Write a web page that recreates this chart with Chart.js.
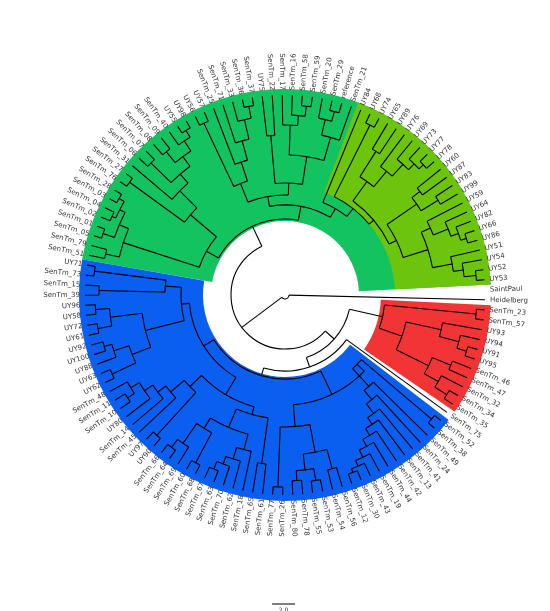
<!DOCTYPE html>
<html><head><meta charset="utf-8">
<script src="https://cdn.jsdelivr.net/npm/chart.js@4.4.1/dist/chart.umd.min.js"></script>
<style>html,body{margin:0;padding:0;background:#fff}#w{width:550px;height:611px}</style>
</head><body><div id="w"><canvas id="c"></canvas></div>
<script>
// Clade topologies (Newick; number after ')' = node radius, tips at radius 1)
const redClade = "((SenTm_23,SenTm_57)0.96,((UY93,(UY94,(UY91,UY95)0.95)0.9)0.8,((SenTm_46,SenTm_47)0.9,(SenTm_32,(SenTm_34,SenTm_35)0.95)0.88)0.8)0.62)0.5";
const blueA = "((SenTm_52,SenTm_38)0.96,(SenTm_49,(SenTm_24,(SenTm_41,(SenTm_13,(SenTm_42,(SenTm_44,(SenTm_19,(SenTm_43,(SenTm_30,SenTm_12)0.95)0.93)0.9)0.86)0.82)0.78)0.74)0.68)0.62)0.5";
const blueB = "(((SenTm_56,SenTm_54)0.9,((SenTm_53,SenTm_55)0.94,(SenTm_78,SenTm_80)0.93)0.88)0.8,(SenTm_26,SenTm_77)0.96)0.66";
const blueC = "((SenTm_61,SenTm_65)0.85,((SenTm_18,(SenTm_62,(SenTm_70,(SenTm_63,SenTm_67)0.94)0.9)0.86)0.8,((SenTm_68,SenTm_60)0.95,(SenTm_69,(SenTm_64,SenTm_66)0.95)0.9)0.78)0.72)0.62";
const blueD = "((UY90,UY97)0.95,(SenTm_45,(SenTm_14,(UY80,((SenTm_10,SenTm_11)0.94,SenTm_48)0.9)0.85)0.8)0.75)0.66";
const blueE = "(((UY62,UY63)0.95,(UY88,(UY100,UY92)0.94)0.9)0.82,((UY61,UY72)0.95,(UY58,UY96)0.95)0.88)0.72";
const blueF = "((SenTm_39,SenTm_15)0.93,(SenTm_73,UY71)0.96)0.6";
const greenA = "((SenTm_51,SenTm_79)0.92,((SenTm_05,SenTm_01)0.96,((SenTm_02,SenTm_04)0.95,(SenTm_03,SenTm_28)0.96)0.93)0.9)0.85";
const greenB = "((SenTm_76,SenTm_27)0.96,(SenTm_31,((SenTm_06,SenTm_07)0.94,((SenTm_08,SenTm_09)0.93,(SenTm_40,(UY55,UY98)0.96)0.92)0.86)0.8)0.74)0.62";
const greenC = "((UY56,UY57)0.95,(SenTm_25,(SenTm_71,(SenTm_33,(SenTm_36,SenTm_37)0.96)0.9)0.8)0.7)0.6";
const greenD = "((UY75,SenTm_22)0.8,((SenTm_17,(SenTm_16,(SenTm_58,SenTm_59)0.95)0.9)0.85,((SenTm_20,(SenTm_29,reference)0.95)0.9,SenTm_21)0.82)0.7)0.56";
const lightGreen = "(UY84,((UY68,UY74)0.95,(((UY65,UY89)0.85,(UY76,(UY69,(UY73,(UY77,UY78)0.95)0.92)0.88)0.8)0.7,(((UY60,UY87)0.85,(UY83,UY99)0.9)0.8,((UY59,(UY64,(UY82,(UY66,UY86)0.95)0.92)0.88)0.8,(UY51,(UY54,(UY52,UY53)0.96)0.9)0.85)0.75)0.62)0.58)0.55)0.5";
const blueClade = `((${blueA},${blueB})0.55,((${blueC},${blueD})0.58,(${blueE},${blueF})0.52)0.48)0.42`;
const greenClade = `((${greenA},${greenB})0.45,((${greenC},${greenD})0.5,${lightGreen})0.45)0.38`;
const treeNewick = `(SaintPaul,(Heidelberg,(((${redClade},(SenTm_75,${blueClade})0.38)0.33,${greenClade})0.27)0.17)0.02`;
// Colored clade sectors: [first leaf, last leaf, inner radius, outer radius, colour]
const sectorFirst = ["SenTm_51","UY84","SenTm_52","SenTm_23"];
const sectorLast = ["UY53","UY53","UY71","SenTm_35"];
const sectorInner = [0.37,0.55,0.41,0.48];
const sectorOuter = [1.03,1.03,1.03,1.03];
const sectorColor = ["#13c35f","#6cc50c","#0b5ff0","#f23434"];

function parse(s){let i=0;function node(){if(s[i]==='('){i++;const ch=[node()];while(s[i]===','){i++;ch.push(node());}i++;let n='';while(i<s.length&&/[0-9.]/.test(s[i]))n+=s[i++];return{ch,r:parseFloat(n)};}let n='';while(i<s.length&&!/[,()]/.test(s[i]))n+=s[i++];return{name:n,r:1};}return node();}
const tree=parse(treeNewick);
const leaves=[];(function walk(n){if(n.ch)n.ch.forEach(walk);else leaves.push(n.name);})(tree);
const step=360/leaves.length, start=-1.5;
const angOf=i=>start+i*step;
(function setA(n){if(n.ch){n.ch.forEach(setA);n.a=(n.ch[0].a+n.ch[n.ch.length-1].a)/2;}else n.a=angOf(leaves.indexOf(n.name));})(tree);
const rad=d=>d*Math.PI/180;
const pts=leaves.map((l,i)=>({x:Math.cos(rad(angOf(i))),y:-Math.sin(rad(angOf(i)))}));

const treePlugin={id:'tree',beforeDatasetsDraw(chart){
 const ctx=chart.ctx,xs=chart.scales.x,ys=chart.scales.y;
 const cx=xs.getPixelForValue(0),cy=ys.getPixelForValue(0),u=xs.getPixelForValue(1)-cx;
 const P=(r,a)=>[cx+r*u*Math.cos(rad(a)),cy+r*u*Math.sin(rad(a))];
 ctx.save();
 sectorFirst.forEach((f,k)=>{const a0=angOf(leaves.indexOf(f))-step/2,a1=angOf(leaves.indexOf(sectorLast[k]))+step/2;
  ctx.beginPath();ctx.arc(cx,cy,sectorOuter[k]*u,rad(a0),rad(a1));ctx.arc(cx,cy,sectorInner[k]*u,rad(a1),rad(a0),true);ctx.closePath();ctx.fillStyle=sectorColor[k];ctx.fill();});
 ctx.strokeStyle='#000';ctx.lineWidth=1.1;
 (function draw(n){if(!n.ch)return;
  const a0=n.ch[0].a,a1=n.ch[n.ch.length-1].a;
  ctx.beginPath();ctx.arc(cx,cy,n.r*u,rad(a0),rad(a1));ctx.stroke();
  n.ch.forEach(c=>{const p=P(n.r,c.a),q=P(c.r,c.a);ctx.beginPath();ctx.moveTo(p[0],p[1]);ctx.lineTo(q[0],q[1]);ctx.stroke();draw(c);});})(tree);
 ctx.fillStyle='#333';ctx.font='7px "DejaVu Sans"';ctx.textBaseline='middle';
 leaves.forEach((l,i)=>{let a=angOf(i);const p=P(1.025,a);ctx.save();ctx.translate(p[0],p[1]);
  let an=((a%360)+360)%360;if(an>90&&an<270){ctx.rotate(rad(a+180));ctx.textAlign='right';}else{ctx.rotate(rad(a));ctx.textAlign='left';}
  ctx.fillText(l,0,0);ctx.restore();});
 // scale bar
 const by=ys.getPixelForValue(-1.545),bx=xs.getPixelForValue(-0.065);
 ctx.beginPath();ctx.lineWidth=1;ctx.moveTo(bx,by);ctx.lineTo(bx+23,by);ctx.stroke();
 ctx.font='6px "DejaVu Sans"';ctx.textAlign='center';ctx.fillText('2.0',bx+11.5,by+6);
 ctx.restore();}};

new Chart(document.getElementById('c'),{type:'scatter',
 data:{datasets:[{data:pts,pointRadius:0}]},
 options:{responsive:true,maintainAspectRatio:false,animation:false,
  layout:{padding:0},
  plugins:{legend:{display:false},tooltip:{enabled:false}},
  scales:{x:{type:'linear',min:-1.425,max:1.325,display:false},y:{type:'linear',min:-1.58,max:1.475,display:false}}},
 plugins:[treePlugin]});
</script></body></html>
